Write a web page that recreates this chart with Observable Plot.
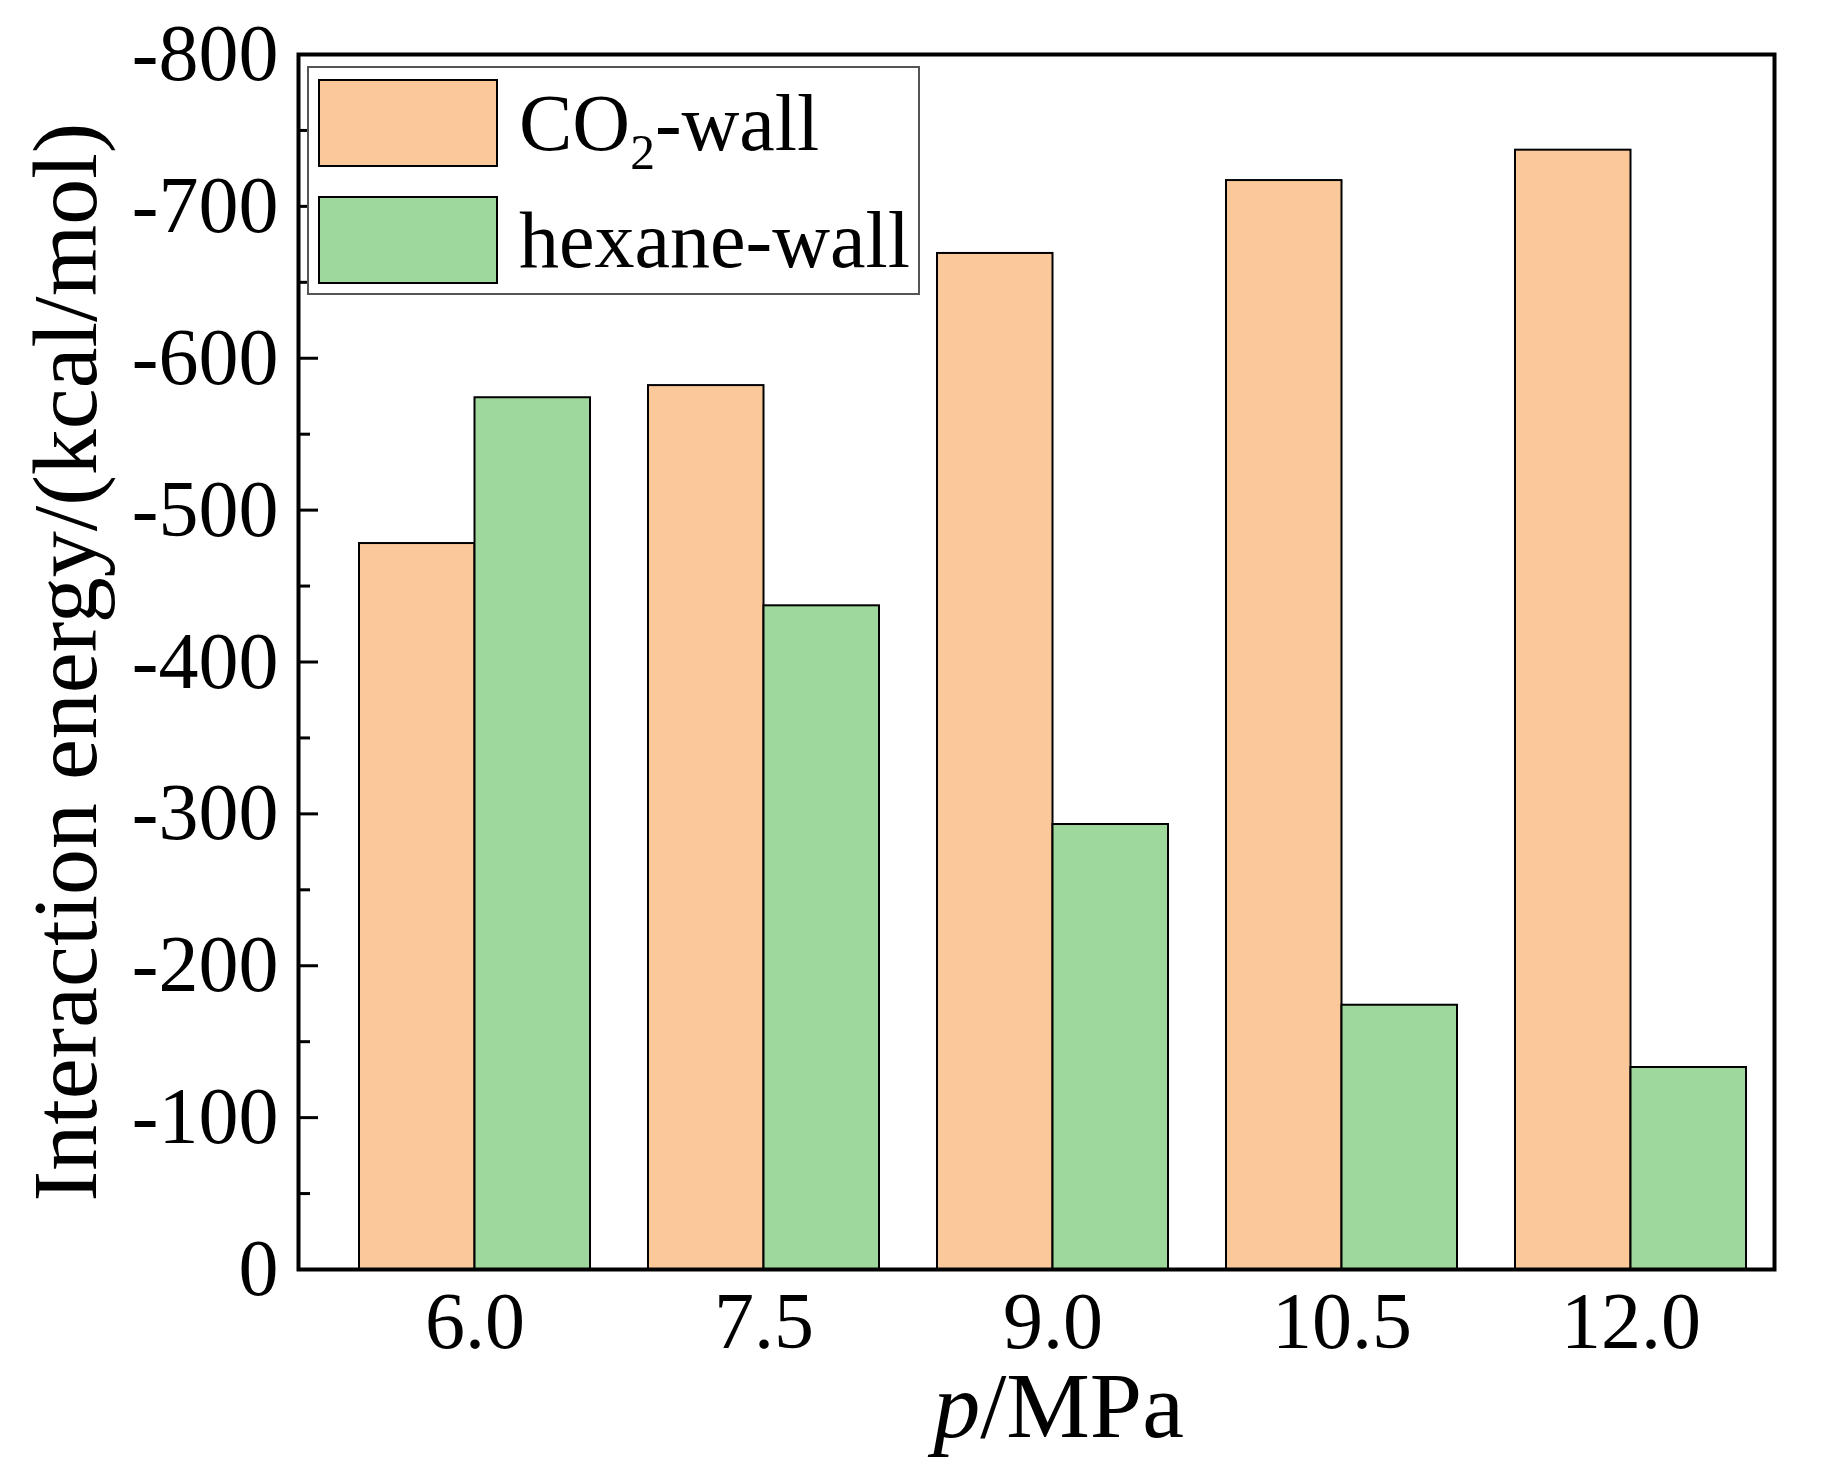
<!DOCTYPE html>
<html lang="en">
<head>
<meta charset="utf-8">
<meta name="viewport" content="width=device-width, initial-scale=1">
<title>Interaction energy vs pressure</title>

<script src="https://cdn.jsdelivr.net/npm/d3@7"></script>
<script src="https://cdn.jsdelivr.net/npm/@observablehq/plot@0.6"></script>

<style>
  body {
    margin: 0;
    background: #fff;
  }

  #graphic {
    position: relative;
    width: 1833px;
    height: 1479px;
  }

  #graphic svg {
    display: block;
  }

  #legend {
    position: absolute;
    left: 307px;
    top: 66px;
    width: 613px;
    height: 229px;
    border: 2px solid #555;
    background: #fff;
    box-sizing: border-box;
    font-family: 'Liberation Serif', 'Times New Roman', serif;
    font-size: 80px;
    color: #000;
  }

  .item {
    position: absolute;
    left: 9px;
    display: flex;
    align-items: center;
    white-space: nowrap;
    line-height: 1;
  }

  .swatch {
    width: 180px;
    height: 88px;
    border: 2px solid #000;
    box-sizing: border-box;
    margin-right: 21px;
  }

  .item sub {
    font-size: 0.62em;
    vertical-align: -0.38em;
    line-height: 0;
  }
</style>
</head>

<body>
<div id="graphic"></div>

<script>
  // pressure groups (MPa)
  const pressures = ["6.0", "7.5", "9.0", "10.5", "12.0"];

  // interaction energies, kcal/mol
  const co2Wall = [-478, -582, -669, -717, -737];
  const hexaneWall = [-574, -437, -293, -174, -133];

  const seriesNames = ["CO2-wall", "hexane-wall"];
  const seriesLabels = ["CO<sub>2</sub>-wall", "hexane-wall"];
  const seriesColors = ["#fbc999", "#9fd89c"];

  const majorTicks = [0, -100, -200, -300, -400, -500, -600, -700, -800];
  const minorTicks = [-50, -150, -250, -350, -450, -550, -650, -750];

  const rows = pressures.flatMap((p, i) => [
    {p, series: seriesNames[0], value: co2Wall[i]},
    {p, series: seriesNames[1], value: hexaneWall[i]}
  ]);

  const half = 115.5; // half of a group's band, one bar each side

  const chart = Plot.plot({
    width: 1833,
    height: 1479,
    marginLeft: 298,
    marginRight: 59,
    marginTop: 54,
    marginBottom: 210,
    style: {fontFamily: "'Liberation Serif', 'Times New Roman', serif", fontSize: "80px", color: "#000", background: "#fff"},
    x: {domain: pressures, paddingInner: 0.2, paddingOuter: 0.145, align: 0.69},
    y: {domain: [0, -800]},
    color: {domain: seriesNames, range: seriesColors},
    marks: [
      Plot.barY(rows.filter(d => d.series === seriesNames[0]), {x: "p", y: "value", fill: "series", stroke: "#000", strokeWidth: 2, insetRight: half}),
      Plot.barY(rows.filter(d => d.series === seriesNames[1]), {x: "p", y: "value", fill: "series", stroke: "#000", strokeWidth: 2, insetLeft: half}),
      Plot.axisY(majorTicks, {tickSize: -20, strokeWidth: 3, tickFormat: () => "", label: null}),
      Plot.axisY(minorTicks, {tickSize: -12, strokeWidth: 3, tickFormat: () => "", label: null}),
      Plot.axisY(majorTicks, {tickSize: 0, tickPadding: 20, tickFormat: d => String(d),
        label: "Interaction energy/(kcal/mol)", labelAnchor: "center", labelArrow: "none", labelOffset: 268}),
      Plot.axisX({tickSize: 0, tickPadding: 22, label: "p/MPa", labelAnchor: "center", labelArrow: "none", labelOffset: 167}),
      Plot.frame({stroke: "#000", strokeWidth: 4})
    ]
  });

  // axis titles: bigger y title, italic p on the x title
  d3.select(chart).selectAll('g[aria-label="y-axis label"] text').style("font-size", "92px");
  d3.select(chart).selectAll('g[aria-label="x-axis label"] text').each(function() {
    const t = d3.select(this);
    t.style("font-size", "94px").attr("dx", 22).text(null);
    t.append("tspan").style("font-style", "italic").text("p");
    t.append("tspan").text("/MPa");
  });

  const graphic = document.getElementById("graphic");
  graphic.appendChild(chart);

  // legend box drawn over the top-left of the plot
  const legend = d3.select(graphic).append("div").attr("id", "legend");
  const itemTops = [11, 128];
  seriesNames.forEach((name, i) => {
    const item = legend.append("div").attr("class", "item").style("top", itemTops[i] + "px");
    item.append("div").attr("class", "swatch").style("background", seriesColors[i]);
    item.append("span").html(seriesLabels[i]);
  });
</script>
</body>
</html>
